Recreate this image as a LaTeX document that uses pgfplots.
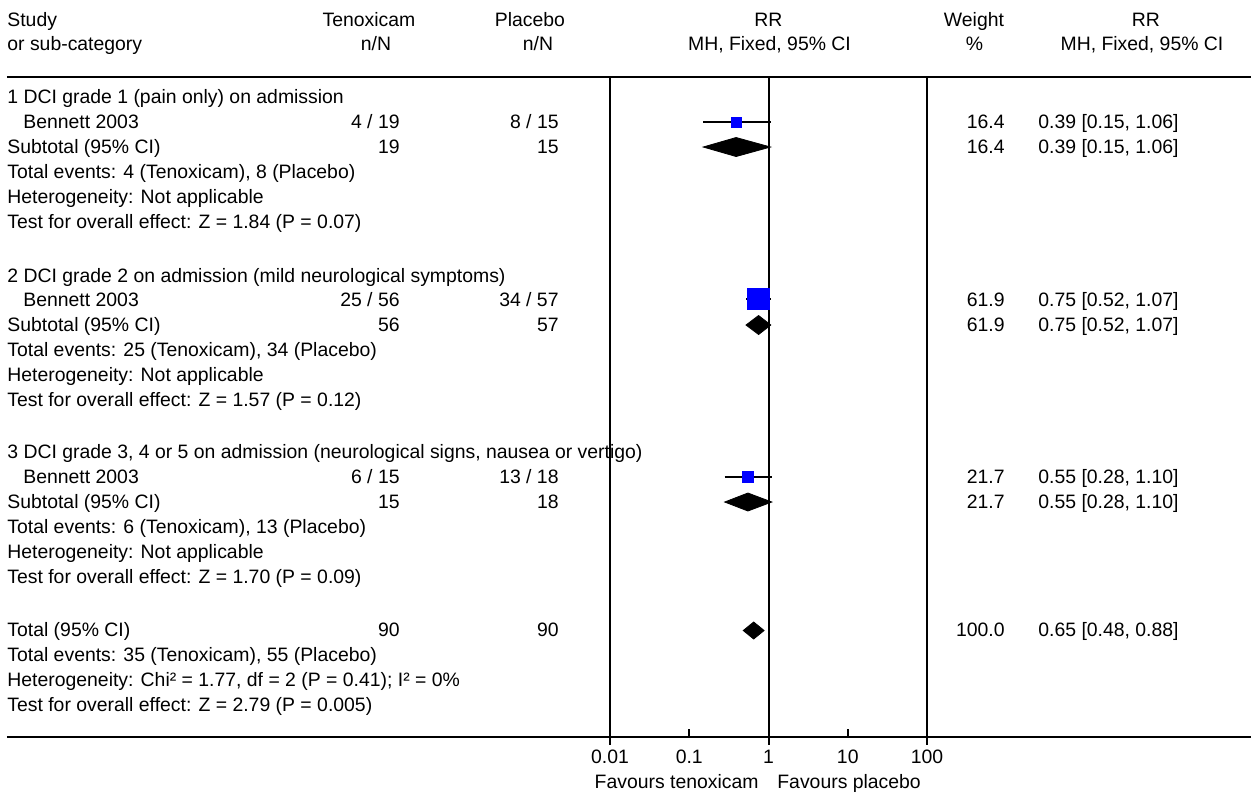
\documentclass[border=0pt]{standalone}
\usepackage{fontspec}
\setmainfont{Liberation Sans}
\usepackage{pgfplots}
\pgfplotsset{compat=1.18}
\newcommand\ff{\fontsize{9.7bp}{11bp}\selectfont}
\begin{document}
\begin{tikzpicture}
% picture is 1251 x 793 px, 1 px = 0.5bp
\path[use as bounding box] (0,0) rectangle (625.5bp,-396.5bp);
\begin{axis}[
    at={(384.25bp,-203.5bp)}, anchor=center,
    width=158.5bp, height=330bp, scale only axis,
    xmode=log, xmin=0.01, xmax=100,
    y dir=reverse, ymin=77, ymax=737,
    axis line style={draw=none},
    ytick=\empty,
    xtick={0.01,1,100}, xticklabels={0.01,1,100},
    extra x ticks={0.1,10}, extra x tick labels={0.1,10},
    extra x tick style={grid=none},
    tick align=inside, major tick length=4bp,
    xtick pos=left,
    grid=major, major grid style={black, line width=1bp},
    every tick/.style={black, line width=0.9bp},
    xticklabel style={font=\ff, anchor=base, yshift=-13.4bp},
    clip=false,
]
% 1 DCI grade 1
\addplot[only marks, mark=square*, mark size=2.5bp, color=blue] coordinates {(0.39,122)};
\addplot[black, line width=0.7bp] coordinates {(0.15,122) (1.06,122)};
\addplot[fill=black, draw=black] coordinates {(0.15,147) (0.39,137.5) (1.06,147) (0.39,156.5)} -- cycle;
% 2 DCI grade 2
\addplot[only marks, mark=square*, mark size=5.4bp, color=blue] coordinates {(0.75,299)};
\addplot[black, line width=0.7bp] coordinates {(0.52,299) (1.07,299)};
\addplot[fill=black, draw=black] coordinates {(0.52,325) (0.75,315.5) (1.07,325) (0.75,334.5)} -- cycle;
% 3 DCI grade 3-5
\addplot[only marks, mark=square*, mark size=2.6bp, color=blue] coordinates {(0.55,477)};
\addplot[black, line width=0.7bp] coordinates {(0.28,477) (1.10,477)};
\addplot[fill=black, draw=black] coordinates {(0.28,502) (0.55,493) (1.10,502) (0.55,511)} -- cycle;
% Total
\addplot[fill=black, draw=black] coordinates {(0.48,630.5) (0.65,622) (0.88,630.5) (0.65,639)} -- cycle;
% reference lines reach a little below the axis
\draw[line width=1bp] (axis cs:0.01,737) -- (axis cs:0.01,745);
\draw[line width=1bp] (axis cs:1,737) -- (axis cs:1,745);
\draw[line width=1bp] (axis cs:100,737) -- (axis cs:100,745);
\end{axis}
\begin{scope}[x=0.5bp, y=-0.5bp,
    lbl/.style={inner sep=0pt, font=\ff, anchor=base west, yshift=-3.4bp},
    num/.style={lbl, anchor=base east},
    hdr/.style={lbl, anchor=base}]
\draw[line width=1bp] (7,77) -- (1251,77);
\draw[line width=1bp] (7,737) -- (1251,737);
% headers
\node[lbl] at (7,20) {Study};
\node[lbl] at (7,44) {or sub-category};
\node[hdr] at (369,20) {Tenoxicam};
\node[hdr] at (376,44) {n/N};
\node[hdr] at (530,20) {Placebo};
\node[hdr] at (538,44) {n/N};
\node[hdr] at (768.5,20) {RR};
\node[hdr] at (769.5,44) {MH, Fixed, 95\% CI};
\node[hdr] at (974,20) {Weight};
\node[hdr] at (974.5,44) {\%};
\node[hdr] at (1146,20) {RR};
\node[hdr] at (1142,44) {MH, Fixed, 95\% CI};
% group 1
\node[lbl] at (7,97) {1 DCI grade 1 (pain only) on admission};
\node[lbl] at (23,122) {Bennett 2003};
\node[num] at (400,122) {4 / 19};
\node[num] at (559,122) {8 / 15};
\node[num] at (1005,122) {16.4};
\node[lbl] at (1038,122) {0.39 [0.15, 1.06]};
\node[lbl] at (7,147) {Subtotal (95\% CI)};
\node[num] at (400,147) {19};
\node[num] at (559,147) {15};
\node[num] at (1005,147) {16.4};
\node[lbl] at (1038,147) {0.39 [0.15, 1.06]};
\node[lbl] at (7,172) {Total events: 4 (Tenoxicam), 8 (Placebo)};
\node[lbl] at (7,197) {Heterogeneity: Not applicable};
\node[lbl] at (7,222) {Test for overall effect: Z = 1.84 (P = 0.07)};
% group 2
\node[lbl] at (7,276) {2 DCI grade 2 on admission (mild neurological symptoms)};
\node[lbl] at (23,300) {Bennett 2003};
\node[num] at (400,300) {25 / 56};
\node[num] at (559,300) {34 / 57};
\node[num] at (1005,300) {61.9};
\node[lbl] at (1038,300) {0.75 [0.52, 1.07]};
\node[lbl] at (7,325) {Subtotal (95\% CI)};
\node[num] at (400,325) {56};
\node[num] at (559,325) {57};
\node[num] at (1005,325) {61.9};
\node[lbl] at (1038,325) {0.75 [0.52, 1.07]};
\node[lbl] at (7,350) {Total events: 25 (Tenoxicam), 34 (Placebo)};
\node[lbl] at (7,375) {Heterogeneity: Not applicable};
\node[lbl] at (7,400) {Test for overall effect: Z = 1.57 (P = 0.12)};
% group 3
\node[lbl] at (7,452) {3 DCI grade 3, 4 or 5 on admission (neurological signs, nausea or vertigo)};
\node[lbl] at (23,477) {Bennett 2003};
\node[num] at (400,477) {6 / 15};
\node[num] at (559,477) {13 / 18};
\node[num] at (1005,477) {21.7};
\node[lbl] at (1038,477) {0.55 [0.28, 1.10]};
\node[lbl] at (7,502) {Subtotal (95\% CI)};
\node[num] at (400,502) {15};
\node[num] at (559,502) {18};
\node[num] at (1005,502) {21.7};
\node[lbl] at (1038,502) {0.55 [0.28, 1.10]};
\node[lbl] at (7,527) {Total events: 6 (Tenoxicam), 13 (Placebo)};
\node[lbl] at (7,552) {Heterogeneity: Not applicable};
\node[lbl] at (7,577) {Test for overall effect: Z = 1.70 (P = 0.09)};
% total
\node[lbl] at (7,630) {Total (95\% CI)};
\node[num] at (400,630) {90};
\node[num] at (559,630) {90};
\node[num] at (1005,630) {100.0};
\node[lbl] at (1038,630) {0.65 [0.48, 0.88]};
\node[lbl] at (7,655) {Total events: 35 (Tenoxicam), 55 (Placebo)};
\node[lbl] at (7,680) {Heterogeneity: Chi² = 1.77, df = 2 (P = 0.41); I² = 0\%};
\node[lbl] at (7,705) {Test for overall effect: Z = 2.79 (P = 0.005)};
% bottom
\node[num] at (759,782) {Favours tenoxicam};
\node[lbl] at (777,782) {Favours placebo};
\end{scope}
\end{tikzpicture}
\end{document}
